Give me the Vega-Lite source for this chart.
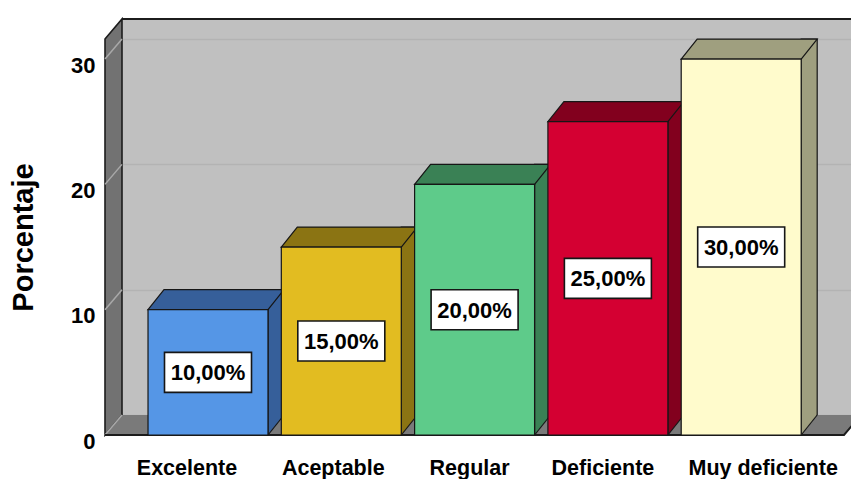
{
  "$schema": "https://vega.github.io/schema/vega-lite/v6.json",
  "width": 729,
  "height": 396,
  "autosize": {"type": "none"},
  "padding": {"left": 122, "top": 19, "right": 0, "bottom": 64},
  "background": "#ffffff",
  "config": {
    "font": "Liberation Sans",
    "view": {"fill": "#c0c0c0", "stroke": null},
    "locale": {"number": {"decimal": ",", "thousands": ".", "grouping": [3], "currency": ["", "%"]}},
    "axis": {
      "domain": false,
      "ticks": false,
      "tickSize": 0,
      "labelFont": "Liberation Sans",
      "labelFontWeight": "bold",
      "labelColor": "#000000",
      "titleFont": "Liberation Sans",
      "titleFontWeight": "bold",
      "titleColor": "#000000",
      "labelOverlap": false
    }
  },
  "data": {
    "values": [
      {"category": "Excelente", "percent": 10},
      {"category": "Aceptable", "percent": 15},
      {"category": "Regular", "percent": 20},
      {"category": "Deficiente", "percent": 25},
      {"category": "Muy deficiente", "percent": 30}
    ]
  },
  "layer": [
    {
      "layer": [
        {
          "data": {"values": [{}]},
          "mark": {"type": "point", "shape": "M-17,-376L0,-396L0,0L-17,20Z", "size": 4, "filled": true, "fill": "#727272", "stroke": "#1c1c1c", "strokeWidth": 1.6, "opacity": 1},
          "encoding": {"x": {"value": 0}, "y": {"datum": 0}}
        },
        {
          "data": {"values": [{}]},
          "mark": {"type": "point", "shape": "M0,-396L739,-396", "size": 4, "filled": false, "stroke": "#1c1c1c", "strokeWidth": 2.2, "opacity": 1},
          "encoding": {"x": {"value": 0}, "y": {"datum": 0}}
        },
        {
          "data": {"values": [{}]},
          "mark": {"type": "point", "shape": "M-17,20L0,0L739,0L722,20Z", "size": 4, "filled": true, "fill": "#7a7a7a", "strokeWidth": 0, "opacity": 1},
          "encoding": {"x": {"value": 0}, "y": {"datum": 0}}
        },
        {
          "data": {"values": [{"tick": 0}, {"tick": 10}, {"tick": 20}, {"tick": 30}]},
          "mark": {"type": "point", "shape": "M-17,20L0,0", "size": 4, "filled": false, "stroke": "#a9a9a9", "strokeWidth": 1.5, "opacity": 1},
          "encoding": {"x": {"value": 0}, "y": {"field": "tick", "type": "quantitative"}}
        },
        {
          "mark": {"type": "bar", "width": 16, "xOffset": 52, "y2Offset": 20, "stroke": "#161616", "strokeWidth": 1.2},
          "encoding": {
            "x": {
              "field": "category", "type": "nominal", "sort": null,
              "scale": {"paddingInner": 0.1, "paddingOuter": 0.2845, "align": 0.554},
              "axis": {
                "title": null,
                "labelAngle": 0,
                "grid": false,
                "labelFontSize": 21.5,
                "labelPadding": 42,
                "labelOffset": {
                  "condition": [
                    {"test": "datum.value === 'Excelente'", "value": -37},
                    {"test": "datum.value === 'Aceptable'", "value": -24},
                    {"test": "datum.value === 'Muy deficiente'", "value": 6}
                  ],
                  "value": -21
                }
              }
            },
            "y": {
              "field": "percent", "type": "quantitative",
              "scale": {"domain": [0, 31.6], "nice": false, "zero": true},
              "axis": {
                "title": "Porcentaje",
                "values": [0, 10, 20, 30],
                "grid": true,
                "gridColor": "#b3b3b3",
                "gridWidth": 1.5,
                "labelFontSize": 22,
                "labelPadding": 27,
                "labelOffset": 26,
                "titleFontSize": 29,
                "titleX": -99,
                "titleY": 218,
                "titleAngle": 270,
                "titleAlign": "center",
                "titleBaseline": "middle"
              }
            },
            "y2": {"datum": 0},
            "fill": {
              "field": "category", "type": "nominal", "sort": null,
              "scale": {"domain": ["Excelente", "Aceptable", "Regular", "Deficiente", "Muy deficiente"], "range": ["#365f9a", "#8b7413", "#3a8155", "#82001e", "#9f9f7f"]},
              "legend": null
            }
          }
        },
        {
          "mark": {"type": "point", "shape": "M60,0L61,0L61,20L44,20Z", "size": 4, "filled": true, "fill": "#7a7a7a", "strokeWidth": 0, "opacity": 1},
          "encoding": {"x": {"field": "category", "type": "nominal", "sort": null}, "y": {"datum": 0}}
        },
        {
          "mark": {"type": "point", "shape": "M60,0L44,20", "size": 4, "filled": false, "stroke": "#161616", "strokeWidth": 1.2, "opacity": 1},
          "encoding": {"x": {"field": "category", "type": "nominal", "sort": null}, "y": {"datum": 0}}
        },
        {
          "data": {"values": [{}]},
          "mark": {"type": "point", "shape": "M-17,20L722,20L739,0", "size": 4, "filled": false, "stroke": "#1c1c1c", "strokeWidth": 2, "opacity": 1},
          "encoding": {"x": {"value": 0}, "y": {"datum": 0}}
        },
        {
          "mark": {"type": "point", "shape": "M-60,0L60,0L44,20L-76,20Z", "size": 4, "filled": true, "stroke": "#161616", "strokeWidth": 1.2, "opacity": 1},
          "encoding": {
            "x": {"field": "category", "type": "nominal", "sort": null},
            "y": {"field": "percent", "type": "quantitative"},
            "fill": {
              "field": "category", "type": "nominal", "sort": null,
              "scale": {"domain": ["Excelente", "Aceptable", "Regular", "Deficiente", "Muy deficiente"], "range": ["#365f9a", "#8b7413", "#3a8155", "#82001e", "#9f9f7f"]},
              "legend": null
            }
          }
        },
        {
          "mark": {"type": "bar", "xOffset": -16, "yOffset": 20, "y2Offset": 20, "stroke": "#161616", "strokeWidth": 1.2},
          "encoding": {
            "x": {"field": "category", "type": "nominal", "sort": null},
            "y": {"field": "percent", "type": "quantitative"},
            "y2": {"datum": 0},
            "fill": {
              "field": "category", "type": "nominal", "sort": null,
              "scale": {"domain": ["Excelente", "Aceptable", "Regular", "Deficiente", "Muy deficiente"], "range": ["#5596e6", "#e2bc21", "#5ecb8a", "#d40032", "#fffbcc"]},
              "legend": null
            }
          }
        }
      ],
      "resolve": {"scale": {"fill": "independent"}}
    },
    {
      "layer": [
        {
          "mark": {"type": "point", "shape": "M-43.5,-20L43.5,-20L43.5,20L-43.5,20Z", "size": 4, "filled": true, "fill": "#ffffff", "stroke": "#161616", "strokeWidth": 1.6, "opacity": 1, "xOffset": -16, "yOffset": 20},
          "encoding": {
            "x": {"field": "category", "type": "nominal", "sort": null},
            "y": {"field": "percent", "type": "quantitative", "scale": {"domain": [0, 63.2], "nice": false, "zero": true}, "axis": null}
          }
        },
        {
          "mark": {"type": "text", "font": "Liberation Sans", "fontSize": 22, "fontWeight": "bold", "fill": "#000000", "xOffset": -16, "yOffset": 21, "align": "center", "baseline": "middle"},
          "encoding": {
            "x": {"field": "category", "type": "nominal", "sort": null},
            "y": {"field": "percent", "type": "quantitative", "axis": null},
            "text": {"field": "percent", "type": "quantitative", "format": "$.2f"}
          }
        }
      ]
    }
  ],
  "resolve": {"scale": {"y": "independent"}}
}
